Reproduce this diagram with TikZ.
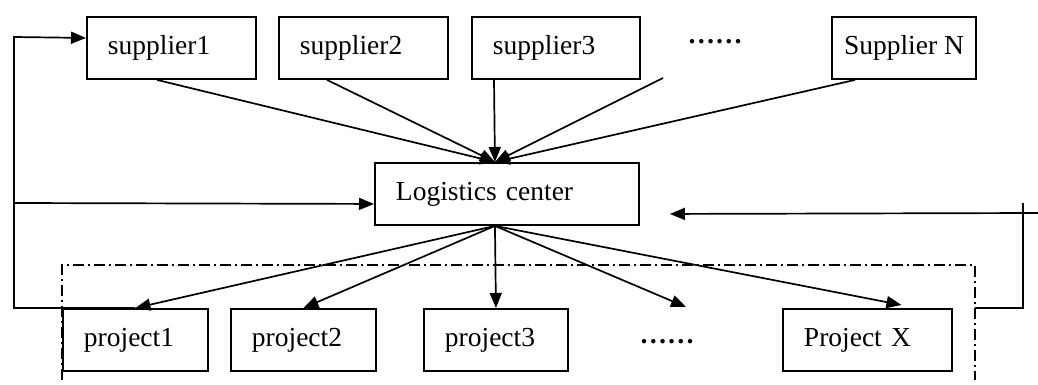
\documentclass[tikz,border=0pt]{standalone}
\usepackage{fontspec}
\setmainfont{Liberation Serif}
\usetikzlibrary{arrows.meta, calc}

\begin{document}
\begin{tikzpicture}[x=1pt, y=-1pt,
    box/.style={draw, line width=1.9pt, anchor=north west, minimum height=62pt,
                inner xsep=21pt, inner ysep=0pt, align=left,
                font=\fontsize{27.5}{30}\selectfont},
    dots/.style={anchor=base, inner sep=0pt, font=\fontsize{27.5}{30}\selectfont\bfseries},
    arr/.style={-{Triangle[length=15pt, width=12pt]}, line width=1.7pt},
    link/.style={line width=1.7pt},
    frame/.style={line width=1.7pt, dash pattern=on 11pt off 4pt on 2pt off 4pt}]
  \useasboundingbox (0,0) rectangle (1038,385);

  % project group
  \draw[frame] (62,380) -- (62,265) -- (975,265) -- (975,380);

  % suppliers
  \node[box, text width=127pt] (sup1) at (86,16) {supplier1};
  \node[box, text width=127pt] (sup2) at (278,16) {supplier2};
  \node[box, text width=126pt] (sup3) at (471,16) {supplier3};
  \node[dots] (sdots) at (715,44) {……};
  \node[box, minimum width=144pt, inner xsep=8pt] (supN) at (831,16) {Supplier N};

  % centre
  \node[box, text width=222pt] (lc) at (374,162) {Logistics center};

  % projects
  \node[box, text width=103pt] (p1) at (62,308) {project1};
  \node[box, text width=103pt] (p2) at (230,308) {project2};
  \node[box, text width=102pt] (p3) at (423,308) {project3};
  \node[dots] (pdots) at (667,343) {……};
  \node[box, text width=127pt] (px) at (782,308) {Project X};

  \coordinate (hubT) at ([xshift=-12pt]lc.north);
  \coordinate (hubB) at ([xshift=-12pt]lc.south);
  \coordinate (sdotsfoot) at (663,78);
  \coordinate (pdotstip) at (686,307);

  % supplies in
  \draw[arr] ([xshift=71pt]sup1.south west) -- (hubT);
  \draw[arr] ([xshift=49pt]sup2.south west) -- (hubT);
  \draw[arr] ([xshift=23pt]sup3.south west) -- (hubT);
  \draw[arr] (sdotsfoot) -- (hubT);
  \draw[arr] ([xshift=24pt]supN.south west) -- (hubT);

  % distribution out
  \draw[arr] (hubB) -- (p1.north);
  \draw[arr] (hubB) -- (p2.north);
  \draw[arr] (hubB) -- (p3.north);
  \draw[arr] (hubB) -- (pdotstip);
  \draw[arr] (hubB) -- ([xshift=34pt, yshift=3pt]px.north);

  % feedback, left
  \coordinate (fbL) at (14,308);
  \coordinate (fbM) at (14,203);
  \coordinate (fbT) at (14,37);
  \draw[arr] (p1.north) -- (fbL) -- (fbT) -- ([yshift=10pt]sup1.west);
  \draw[arr] (fbM) -- ([yshift=-10pt]lc.west);

  % feedback, right
  \coordinate (frameR) at (975,308);
  \coordinate (fbRb) at (1023,308);
  \coordinate (fbRt) at (1023,203);
  \coordinate (fbIn) at (1038,213);
  \draw[link] (frameR) -- (fbRb) -- (fbRt);
  \draw[arr] (fbIn) -- ([xshift=30pt, yshift=-20pt]lc.east);
\end{tikzpicture}
\end{document}
